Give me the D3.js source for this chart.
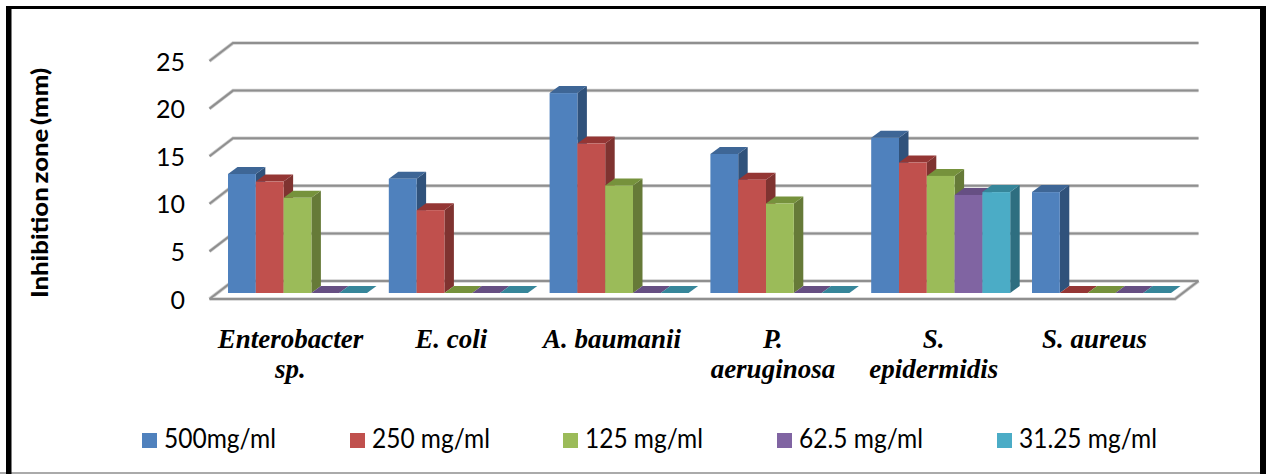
<!DOCTYPE html>
<html>
<head>
<meta charset="utf-8">
<script src="https://cdn.jsdelivr.net/npm/d3@7"></script>
<style>
	html, body { margin: 0; padding: 0; background: #fff; }
	svg { display: block; }
</style>
</head>
<body>
<script>
// Data
var categories = ["Enterobacter sp.", "E. coli", "A. baumanii", "P. aeruginosa", "S. epidermidis", "S. aureus"];
var seriesNames = ["500mg/ml", "250 mg/ml", "125 mg/ml", "62.5 mg/ml", "31.25 mg/ml"];
var values500 = [12.5, 12, 21, 14.6, 16.3, 10.6];
var values250 = [11.7, 8.7, 15.7, 11.9, 13.7, 0];
var values125 = [10, 0, 11.3, 9.4, 12.3, 0];
var values62 = [0, 0, 0, 0, 10.3, 0];
var values31 = [0, 0, 0, 0, 10.6, 0];
var yTicks = [0, 5, 10, 15, 20, 25];
var yTitle = "Inhibition zone (mm)";

var front = ["#4F81BD", "#C0504D", "#9BBB59", "#8064A2", "#4BACC6"];
var tops = ["#3E6696", "#943634", "#76923C", "#664F83", "#36869A"];
var sides = ["#30527B", "#7F3330", "#667A38", "#523F6A", "#2E6E80"];
var legendX = [142, 350, 563, 777, 997];
var legendWidth = [112, 118, 118, 124, 138];

var width = 1266;
var height = 474;
var svgTag = d3.select("body").append("svg")
	.attr("width", width)
	.attr("height", height);

// frame
svgTag.append("rect").attr("x", 0).attr("y", 472).attr("width", width).attr("height", 2).attr("fill", "#aaa");
svgTag.append("rect").attr("x", 6).attr("y", 6).attr("width", 5.5).attr("height", 468).attr("fill", "#000");
svgTag.append("rect").attr("x", 6).attr("y", 6).attr("width", 1255).attr("height", 3).attr("fill", "#000");
svgTag.append("rect").attr("x", 1260).attr("y", 6).attr("width", 6).attr("height", 468).attr("fill", "#000");

var y = d3.scaleLinear().domain([0, 25]).range([299, 61]);
var x = d3.scaleBand().domain(categories).range([217.1, 1181.9]);
var xBar = d3.scaleBand().domain(seriesNames).range([10.9, 149.9]);

var wallDx = 23.5, wallDy = -18, plotRight = 1175;
var barLift = -6, depthX = 9.5, depthY = -7;

// gridlines, wall and back
var grid = svgTag.append("g").attr("fill", "none");
[["#cfcfcf", 3.5], ["#8f8f8f", 2]].forEach(function(s) {
	grid.selectAll(null).data(yTicks).enter().append("path")
		.attr("stroke", s[0])
		.attr("stroke-width", s[1])
		.attr("d", function(d) {
			var p = d3.path();
			p.moveTo(209.5, y(d));
			p.lineTo(209.5 + wallDx, y(d) + wallDy);
			p.lineTo(plotRight + wallDx, y(d) + wallDy);
			return p.toString();
		});
	// floor
	grid.append("path")
		.attr("stroke", s[0])
		.attr("stroke-width", s[1])
		.attr("d", "M209.5," + y(0) + "H" + plotRight + "l" + wallDx + "," + wallDy);
});

// bars, left to right so each front face covers the side of the bar before it
var rows = [values500, values250, values125, values62, values31];
categories.forEach(function(cat, c) {
	rows.forEach(function(vals, s) {
		var x0 = x(cat) + xBar(seriesNames[s]);
		var w = xBar.bandwidth();
		var yTop = y(vals[c]) + barLift;
		var yBase = y(0) + barLift;
		var g = svgTag.append("g");
		g.append("path").attr("fill", sides[s])
			.attr("d", "M" + (x0 + w) + "," + yTop + "l" + depthX + "," + depthY + "V" + (yBase + depthY) + "l" + (-depthX) + "," + (-depthY) + "Z");
		g.append("path").attr("fill", tops[s])
			.attr("d", "M" + x0 + "," + yTop + "l" + depthX + "," + depthY + "h" + w + "l" + (-depthX) + "," + (-depthY) + "Z");
		g.append("rect").attr("fill", front[s])
			.attr("x", x0).attr("y", yTop)
			.attr("width", w).attr("height", yBase - yTop);
	});
});

// y axis labels
var yAxis = svgTag.append("g")
	.attr("transform", "translate(185,0)")
	.call(d3.axisLeft(y).tickValues(yTicks).tickSize(0).tickPadding(0).tickFormat(d3.format("d")));
yAxis.select(".domain").remove();
yAxis.selectAll("text")
	.attr("font-family", "Lato")
	.attr("font-size", 25)
	.attr("fill", "#000")
	.attr("dy", "0.36em");

svgTag.append("text")
	.attr("transform", "translate(48,183) rotate(-90)")
	.attr("text-anchor", "middle")
	.attr("font-family", "Lato")
	.attr("font-weight", 900)
	.attr("font-size", 23)
	.attr("word-spacing", -2)
	.attr("textLength", 230)
	.attr("lengthAdjust", "spacingAndGlyphs")
	.text(yTitle);

// category labels, long names break at the last space
categories.forEach(function(cat) {
	var lines = [cat];
	if (cat.length > 11) {
		var k = cat.lastIndexOf(" ");
		lines = [cat.slice(0, k), cat.slice(k + 1)];
	}
	lines.forEach(function(line, i) {
		svgTag.append("text")
			.attr("x", x(cat) + x.bandwidth() / 2 - 7)
			.attr("y", 348 + i * 30)
			.attr("text-anchor", "middle")
			.attr("font-family", "'Liberation Serif'")
			.attr("font-weight", "bold")
			.attr("font-style", "italic")
			.attr("font-size", 27)
			.text(line);
	});
});

// legend
seriesNames.forEach(function(name, i) {
	svgTag.append("rect")
		.attr("x", legendX[i]).attr("y", 433)
		.attr("width", 15).attr("height", 15)
		.attr("fill", front[i]);
	svgTag.append("text")
		.attr("x", legendX[i] + 22)
		.attr("y", 448)
		.attr("font-family", "Lato")
		.attr("font-size", 26)
		.attr("textLength", legendWidth[i])
		.attr("lengthAdjust", "spacingAndGlyphs")
		.text(name);
});
</script>
</body>
</html>
